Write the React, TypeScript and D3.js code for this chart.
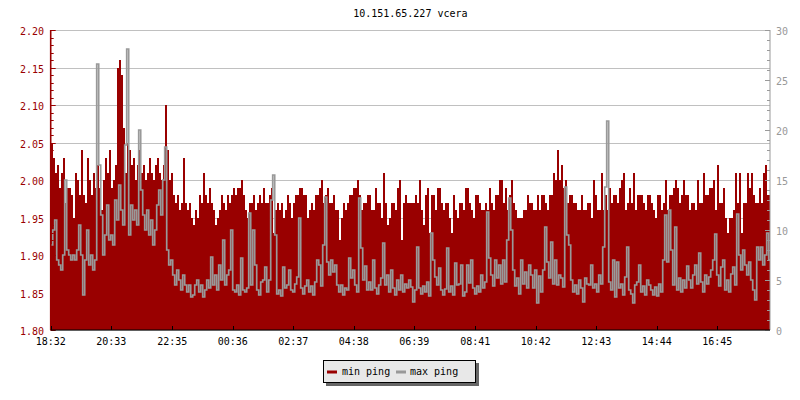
import React from 'react';
import * as d3 from 'd3';

const title = '10.151.65.227 vcera';
const xTickLabels = ['18:32', '20:33', '22:35', '00:36', '02:37', '04:38', '06:39', '08:41', '10:42', '12:43', '14:44', '16:45'];
const startTime = '18:32';
const spanMinutes = 1440;
const sampleMinutes = 4;
const leftTicks = [1.8, 1.85, 1.9, 1.95, 2.0, 2.05, 2.1, 2.15, 2.2];
const rightTicks = [0, 5, 10, 15, 20, 25, 30];
const seriesNames = ['min ping', 'max ping'];

// min ping (left axis)
const minPing = [
  2.05,2.03,2.01,2.02,1.99,2.01,2.03,1.97,1.99,1.99,1.98,1.95,2.01,2.00,1.98,2.04,1.98,1.97,2.03,2.00,1.98,2.01,1.99,2.02,1.99,1.96,2.00,2.03,2.01,2.04,
  1.99,2.00,2.02,2.15,2.16,2.14,2.07,2.01,2.05,2.04,2.02,2.03,2.00,2.02,2.04,2.01,2.02,2.00,2.01,2.03,2.01,2.00,2.02,2.03,2.01,2.00,2.02,2.10,2.04,2.00,
  2.01,1.98,1.97,1.98,1.96,1.97,2.03,1.97,1.96,1.97,1.95,1.94,1.96,1.95,1.98,1.97,2.01,1.98,1.97,1.99,1.97,1.96,1.94,1.95,1.96,1.98,1.97,1.96,1.98,1.97,
  1.98,1.99,1.98,1.99,1.99,2.00,1.98,1.96,1.95,1.97,1.97,1.98,1.96,1.97,1.98,1.97,1.99,1.97,1.97,1.98,1.99,1.93,1.96,1.97,1.96,1.97,1.95,1.96,1.98,1.97,
  1.95,1.97,1.98,1.98,1.99,1.99,1.98,1.98,1.95,1.96,1.97,1.96,1.98,1.98,1.99,2.00,1.97,1.98,1.99,1.97,1.97,1.98,1.96,1.96,1.92,1.95,1.97,1.96,1.97,1.98,
  1.98,1.99,1.99,2.00,1.98,1.96,1.97,1.97,1.98,1.98,1.96,1.96,1.99,1.97,1.97,1.95,2.01,1.97,1.94,1.95,1.97,1.97,1.96,1.99,2.00,1.92,1.97,1.98,1.97,1.97,
  1.97,1.97,1.98,1.97,2.00,1.96,1.94,1.98,1.99,1.93,1.98,1.98,1.96,1.99,1.99,1.97,1.96,1.97,1.97,1.95,1.93,1.98,1.96,1.95,1.97,1.97,1.96,1.99,1.99,1.97,
  1.96,1.95,1.98,1.98,1.97,1.96,1.96,1.97,1.96,1.99,1.97,1.96,1.98,1.98,2.00,2.00,1.97,1.99,1.96,1.98,2.00,1.97,1.96,1.95,1.95,1.95,1.96,1.96,1.98,1.97,
  1.97,1.96,1.96,1.98,1.96,1.98,1.98,1.97,1.96,1.98,1.98,2.01,2.00,2.04,2.00,2.02,1.99,2.00,1.97,1.98,1.98,1.97,1.97,1.96,1.96,1.98,1.96,1.96,1.97,1.97,
  1.95,2.00,1.98,1.96,1.96,2.01,1.96,1.98,1.96,1.99,1.97,1.98,1.98,1.97,1.99,2.00,2.01,1.96,1.97,1.99,1.97,2.01,1.96,1.98,1.98,1.98,1.97,1.96,1.98,1.98,
  1.97,1.96,1.95,1.98,1.98,1.96,1.97,2.00,1.96,1.98,1.98,1.99,2.00,1.99,1.97,1.98,2.00,1.98,1.98,1.96,1.97,1.97,1.96,2.00,1.97,1.97,2.01,1.98,1.98,1.99,
  1.99,2.00,1.96,2.02,1.97,1.97,1.99,1.95,1.93,1.95,1.95,1.96,2.01,1.97,2.01,1.93,1.97,1.97,2.01,1.99,2.01,1.98,1.97,1.97,1.99,1.97,2.01,2.02,1.98,1.98,
];

// max ping (right axis)
const maxPing = [
  8.5,10.0,11.0,7.0,6.5,6.0,7.5,15.0,8.0,7.5,7.0,7.5,7.0,8.0,10.5,7.5,3.5,7.0,10.0,6.5,7.5,6.0,7.0,26.6,16.5,11.5,7.5,9.5,12.5,9.0,
  9.5,8.5,13.0,11.0,14.5,12.0,10.5,18.5,28.1,9.5,12.5,11.0,12.0,10.5,20.0,14.0,11.5,10.0,12.0,9.5,11.0,8.5,10.0,12.5,14.0,11.5,15.0,18.3,8.0,6.5,
  7.0,5.5,4.5,6.0,5.0,4.0,5.5,4.5,3.8,4.5,3.3,3.5,4.5,5.0,3.8,4.5,3.3,4.0,5.0,4.2,7.3,4.5,5.5,4.0,6.5,5.0,9.0,4.5,5.5,6.0,
  10.0,4.0,3.8,4.5,3.5,7.2,4.0,3.8,4.2,11.7,4.5,10.0,6.5,4.0,3.5,4.8,5.0,6.3,3.8,5.0,13.0,15.5,9.5,3.6,4.0,3.4,6.3,4.2,4.5,6.0,
  4.0,3.8,4.6,5.3,11.2,4.2,3.6,4.4,5.0,3.8,4.4,3.5,4.8,7.0,6.5,4.4,8.5,13.3,6.8,5.5,7.0,5.8,6.5,4.5,3.8,4.5,3.5,4.2,4.0,7.2,
  5.2,6.0,4.5,3.8,13.2,8.2,5.0,6.4,4.0,4.8,4.0,7.0,4.2,3.6,4.5,5.2,8.7,4.5,5.5,3.8,6.0,4.2,3.5,5.0,4.0,5.5,3.8,4.6,4.2,5.0,
  4.3,2.8,4.0,8.3,4.2,3.6,4.4,3.8,4.8,3.4,9.7,7.0,5.3,4.5,6.2,4.0,3.5,4.1,8.2,3.8,4.4,3.5,6.7,4.5,4.6,6.5,3.4,3.8,6.5,4.7,
  7.0,4.2,3.6,4.4,3.8,5.5,4.2,4.8,11.8,7.2,5.5,4.4,7.0,5.2,6.5,4.6,7.0,4.8,9.0,13.2,10.0,6.0,4.4,5.2,3.6,7.0,4.6,5.8,4.2,6.5,
  5.5,4.2,6.0,2.7,5.4,3.8,6.0,10.3,6.8,5.2,8.8,4.6,7.0,4.5,5.5,5.2,4.3,14.3,9.5,8.5,5.0,3.8,4.5,3.6,5.0,4.2,2.8,5.2,4.6,4.5,
  6.5,4.2,4.6,3.8,5.5,4.6,8.3,14.3,20.9,4.8,4.0,7.0,3.3,6.8,4.2,4.6,3.5,5.3,8.3,4.0,3.6,2.7,4.5,4.8,6.5,3.8,4.4,3.5,5.0,4.5,
  4.0,3.5,4.3,3.4,4.6,3.8,7.0,11.5,6.8,12.0,8.0,4.5,10.3,4.0,5.2,3.8,5.0,4.2,6.4,5.0,4.2,5.5,6.5,4.6,7.7,4.8,3.8,5.5,4.6,5.3,
  6.0,7.0,9.6,5.5,4.4,6.3,7.0,4.0,5.0,3.8,5.6,6.3,4.5,11.6,7.5,6.0,8.0,6.5,5.5,6.8,5.0,4.0,3.0,8.3,7.0,8.3,6.5,7.5,9.7,7.0,
];

const RED = '#990000';
const GREY = '#999999';
const GRID = '#c0c0c0';
const FONT = '"DejaVu Sans Mono", "Liberation Mono", monospace';

const toMin = (s: string) => {
  const [h, m] = s.split(':').map(Number);
  return h * 60 + m;
};

export default function App() {
  const W = 800, H = 400;
  const left = 50.7, right = 770.7, top = 30, bottom = 330;
  const x = d3.scaleLinear().domain([0, spanMinutes]).range([left, right]);
  const yL = d3.scaleLinear().domain([1.8, 2.2]).range([bottom, top]);
  const yR = d3.scaleLinear().domain([0, 30]).range([bottom, top]);

  const minPts = minPing.map((v, i) => [i * sampleMinutes, v] as [number, number]);
  minPts.push([spanMinutes, minPing[minPing.length - 1]]);
  const maxPts = maxPing.map((v, i) => [i * sampleMinutes, v] as [number, number]);
  maxPts.push([spanMinutes, maxPing[maxPing.length - 1]]);

  const area = d3.area<[number, number]>()
    .x(d => x(d[0]))
    .y0(yL(1.8))
    .y1(d => yL(d[1]))
    .curve(d3.curveStepAfter);
  const line = d3.line<[number, number]>()
    .x(d => x(d[0]))
    .y(d => yR(d[1]))
    .curve(d3.curveStepAfter);

  const start = toMin(startTime);
  const xTicks = xTickLabels.map(l => ({ l, m: (toMin(l) - start + 1440) % 1440 }));
  const leftMinor = yL.ticks(40);
  const rightMinor = yR.ticks(30);
  const plotRight = 770;

  return (
    <svg width={W} height={H} style={{ display: 'block', position: 'absolute', left: 0, top: 0 }} fontFamily={FONT} fontSize={10}>
      <rect x={0} y={0} width={W} height={H} fill="#fff" />
      <defs>
        <clipPath id="plot">
          <rect x={left} y={top - 1} width={plotRight - left} height={bottom - top + 1} />
        </clipPath>
      </defs>
      <text x={(left + plotRight) / 2} y={17} textAnchor="middle" fill="#000">{title}</text>
      {leftTicks.map(t => (
        <line key={'g' + t} x1={left} x2={plotRight} y1={Math.round(yL(t)) + 0.5} y2={Math.round(yL(t)) + 0.5} stroke={GRID} strokeWidth={1} />
      ))}
      <g clipPath="url(#plot)">
        <path d={area(minPts) || ''} fill={RED} shapeRendering="crispEdges" />
        <path d={line(maxPts) || ''} fill="none" stroke={GREY} strokeWidth={1.7} strokeLinejoin="miter" />
      </g>
      <line x1={left} x2={left} y1={top} y2={bottom} stroke={RED} strokeWidth={1.6} />
      {leftMinor.map(t => (
        <line key={'lm' + t} x1={left} x2={left + 3} y1={Math.round(yL(t)) + 0.5} y2={Math.round(yL(t)) + 0.5} stroke={RED} strokeWidth={1} />
      ))}
      {leftTicks.map(t => (
        <g key={'l' + t}>
          <line x1={left} x2={left + 5} y1={Math.round(yL(t)) + 0.5} y2={Math.round(yL(t)) + 0.5} stroke={RED} strokeWidth={1} />
          <text x={44} y={yL(t) + 5} textAnchor="end" fill={RED}>{t.toFixed(2)}</text>
        </g>
      ))}
      <line x1={plotRight} x2={plotRight} y1={top} y2={bottom} stroke={GREY} strokeWidth={1} />
      {rightMinor.map(t => (
        <line key={'rm' + t} x1={plotRight - 3} x2={plotRight} y1={Math.round(yR(t)) + 0.5} y2={Math.round(yR(t)) + 0.5} stroke={GREY} strokeWidth={1} />
      ))}
      {rightTicks.map(t => (
        <g key={'r' + t}>
          <line x1={plotRight - 5} x2={plotRight} y1={Math.round(yR(t)) + 0.5} y2={Math.round(yR(t)) + 0.5} stroke={GREY} strokeWidth={1} />
          <text x={776} y={yR(t) + 5} textAnchor="start" fill={GREY}>{t}</text>
        </g>
      ))}
      <line x1={left} x2={plotRight} y1={330} y2={330} stroke="#000" strokeWidth={1} />
      {xTicks.map(t => (
        <g key={'x' + t.l}>
          <line x1={Math.round(x(t.m)) + 0.5} x2={Math.round(x(t.m)) + 0.5} y1={326} y2={330} stroke="#000" strokeWidth={1} />
          <text x={x(t.m)} y={345} textAnchor="middle" fill="#000">{t.l}</text>
        </g>
      ))}
      <rect x={326} y={363} width={153} height={23} fill="#666" />
      <rect x={323.5} y={360.5} width={152} height={22} fill="#e8e8e8" stroke="#000" strokeWidth={1} />
      <line x1={327} x2={337} y1={372} y2={372} stroke={RED} strokeWidth={3} />
      <text x={342} y={375} fill="#000">{seriesNames[0]}</text>
      <line x1={396} x2={406} y1={372} y2={372} stroke={GREY} strokeWidth={3} />
      <text x={410} y={375} fill="#000">{seriesNames[1]}</text>
    </svg>
  );
}
